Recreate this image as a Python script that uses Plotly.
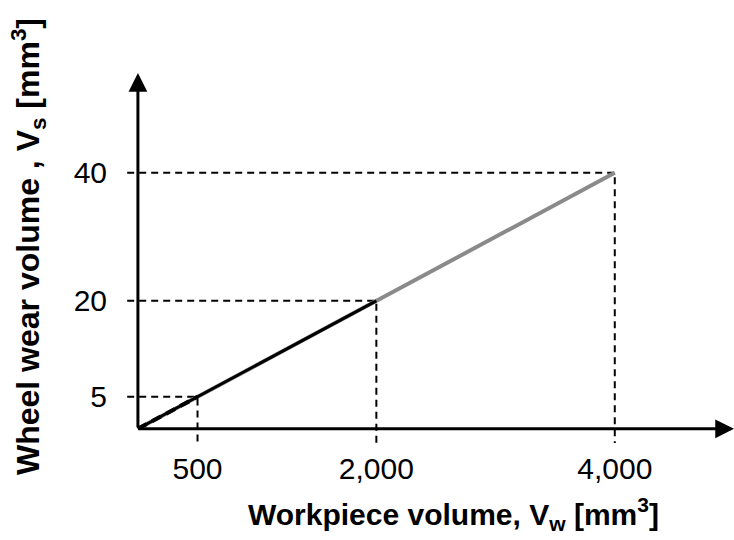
import plotly.graph_objects as go

# Data
vw_grey = [0, 4000]
vs_grey = [0, 40]
vw_black = [0, 2000]
vs_black = [0, 20]
vw_dash = [0, 500]
vs_dash = [0, 5]
guide_vw = [500, 2000, 4000]
guide_vs = [5, 20, 40]
x_tickvals = [500, 2000, 4000]
x_ticktext = ["500", "2,000", "4,000"]
y_tickvals = [5, 20, 40]
y_ticktext = ["5", "20", "40"]

X_MIN, X_MAX = -100, 5000
Y_MIN, Y_MAX = -3, 55.6

fig = go.Figure()

# dashed guide lines
for gx, gy in zip(guide_vw, guide_vs):
    fig.add_trace(go.Scatter(x=[-90, gx, gx], y=[gy, gy, -2.2], mode="lines",
                             line=dict(color="black", width=2, dash="7px,5px"),
                             hoverinfo="skip", showlegend=False))

fig.add_trace(go.Scatter(x=vw_grey, y=vs_grey, mode="lines",
                         line=dict(color="#8a8a8a", width=4), showlegend=False))
fig.add_trace(go.Scatter(x=vw_black, y=vs_black, mode="lines",
                         line=dict(color="black", width=3), showlegend=False))
fig.add_trace(go.Scatter(x=vw_dash, y=vs_dash, mode="lines",
                         line=dict(color="black", width=4, dash="10px,6px"), showlegend=False))

# axis arrows
fig.add_annotation(x=X_MAX, y=0, ax=0, ay=0, xref="x", yref="y", axref="x", ayref="y",
                   showarrow=True, arrowhead=2, arrowsize=1.25, arrowwidth=3, arrowcolor="black", text="")
fig.add_annotation(x=0, y=Y_MAX, ax=0, ay=0, xref="x", yref="y", axref="x", ayref="y",
                   showarrow=True, arrowhead=2, arrowsize=1.25, arrowwidth=3, arrowcolor="black", text="")

# axis titles
fig.add_annotation(xref="paper", yref="paper", x=(453 - 126) / 608, y=(448 - 514) / 375,
                   text="Workpiece volume, V<sub>w</sub> [mm<sup>3</sup>]", showarrow=False,
                   font=dict(family="Liberation Sans", size=30, color="black", weight="bold"),
                   xanchor="center", yanchor="middle")
fig.add_annotation(xref="paper", yref="paper", x=(28 - 126) / 608, y=(448 - 247) / 375,
                   text="Wheel wear volume , V<sub>s</sub> [mm<sup>3</sup>]", showarrow=False,
                   textangle=-90,
                   font=dict(family="Liberation Sans", size=32, color="black", weight="bold"),
                   xanchor="center", yanchor="middle")

fig.update_layout(
    width=734, height=540,
    margin=dict(l=126, r=0, t=73, b=92),
    paper_bgcolor="white", plot_bgcolor="white",
    font=dict(family="Liberation Sans", size=30, color="black"),
    xaxis=dict(range=[X_MIN, X_MAX], showgrid=False, zeroline=False, showline=False,
               tickvals=x_tickvals, ticktext=x_ticktext, ticks="", ticklabelstandoff=0,
               tickfont=dict(size=30, color="black")),
    yaxis=dict(range=[Y_MIN, Y_MAX], showgrid=False, zeroline=False, showline=False,
               tickvals=y_tickvals, ticktext=y_ticktext, ticks="", ticklabelstandoff=18,
               tickfont=dict(size=30, color="black")),
)

fig.write_html("out.html", config={"displayModeBar": False},
               post_script="document.body.style.margin='0';document.body.style.overflow='hidden';")
